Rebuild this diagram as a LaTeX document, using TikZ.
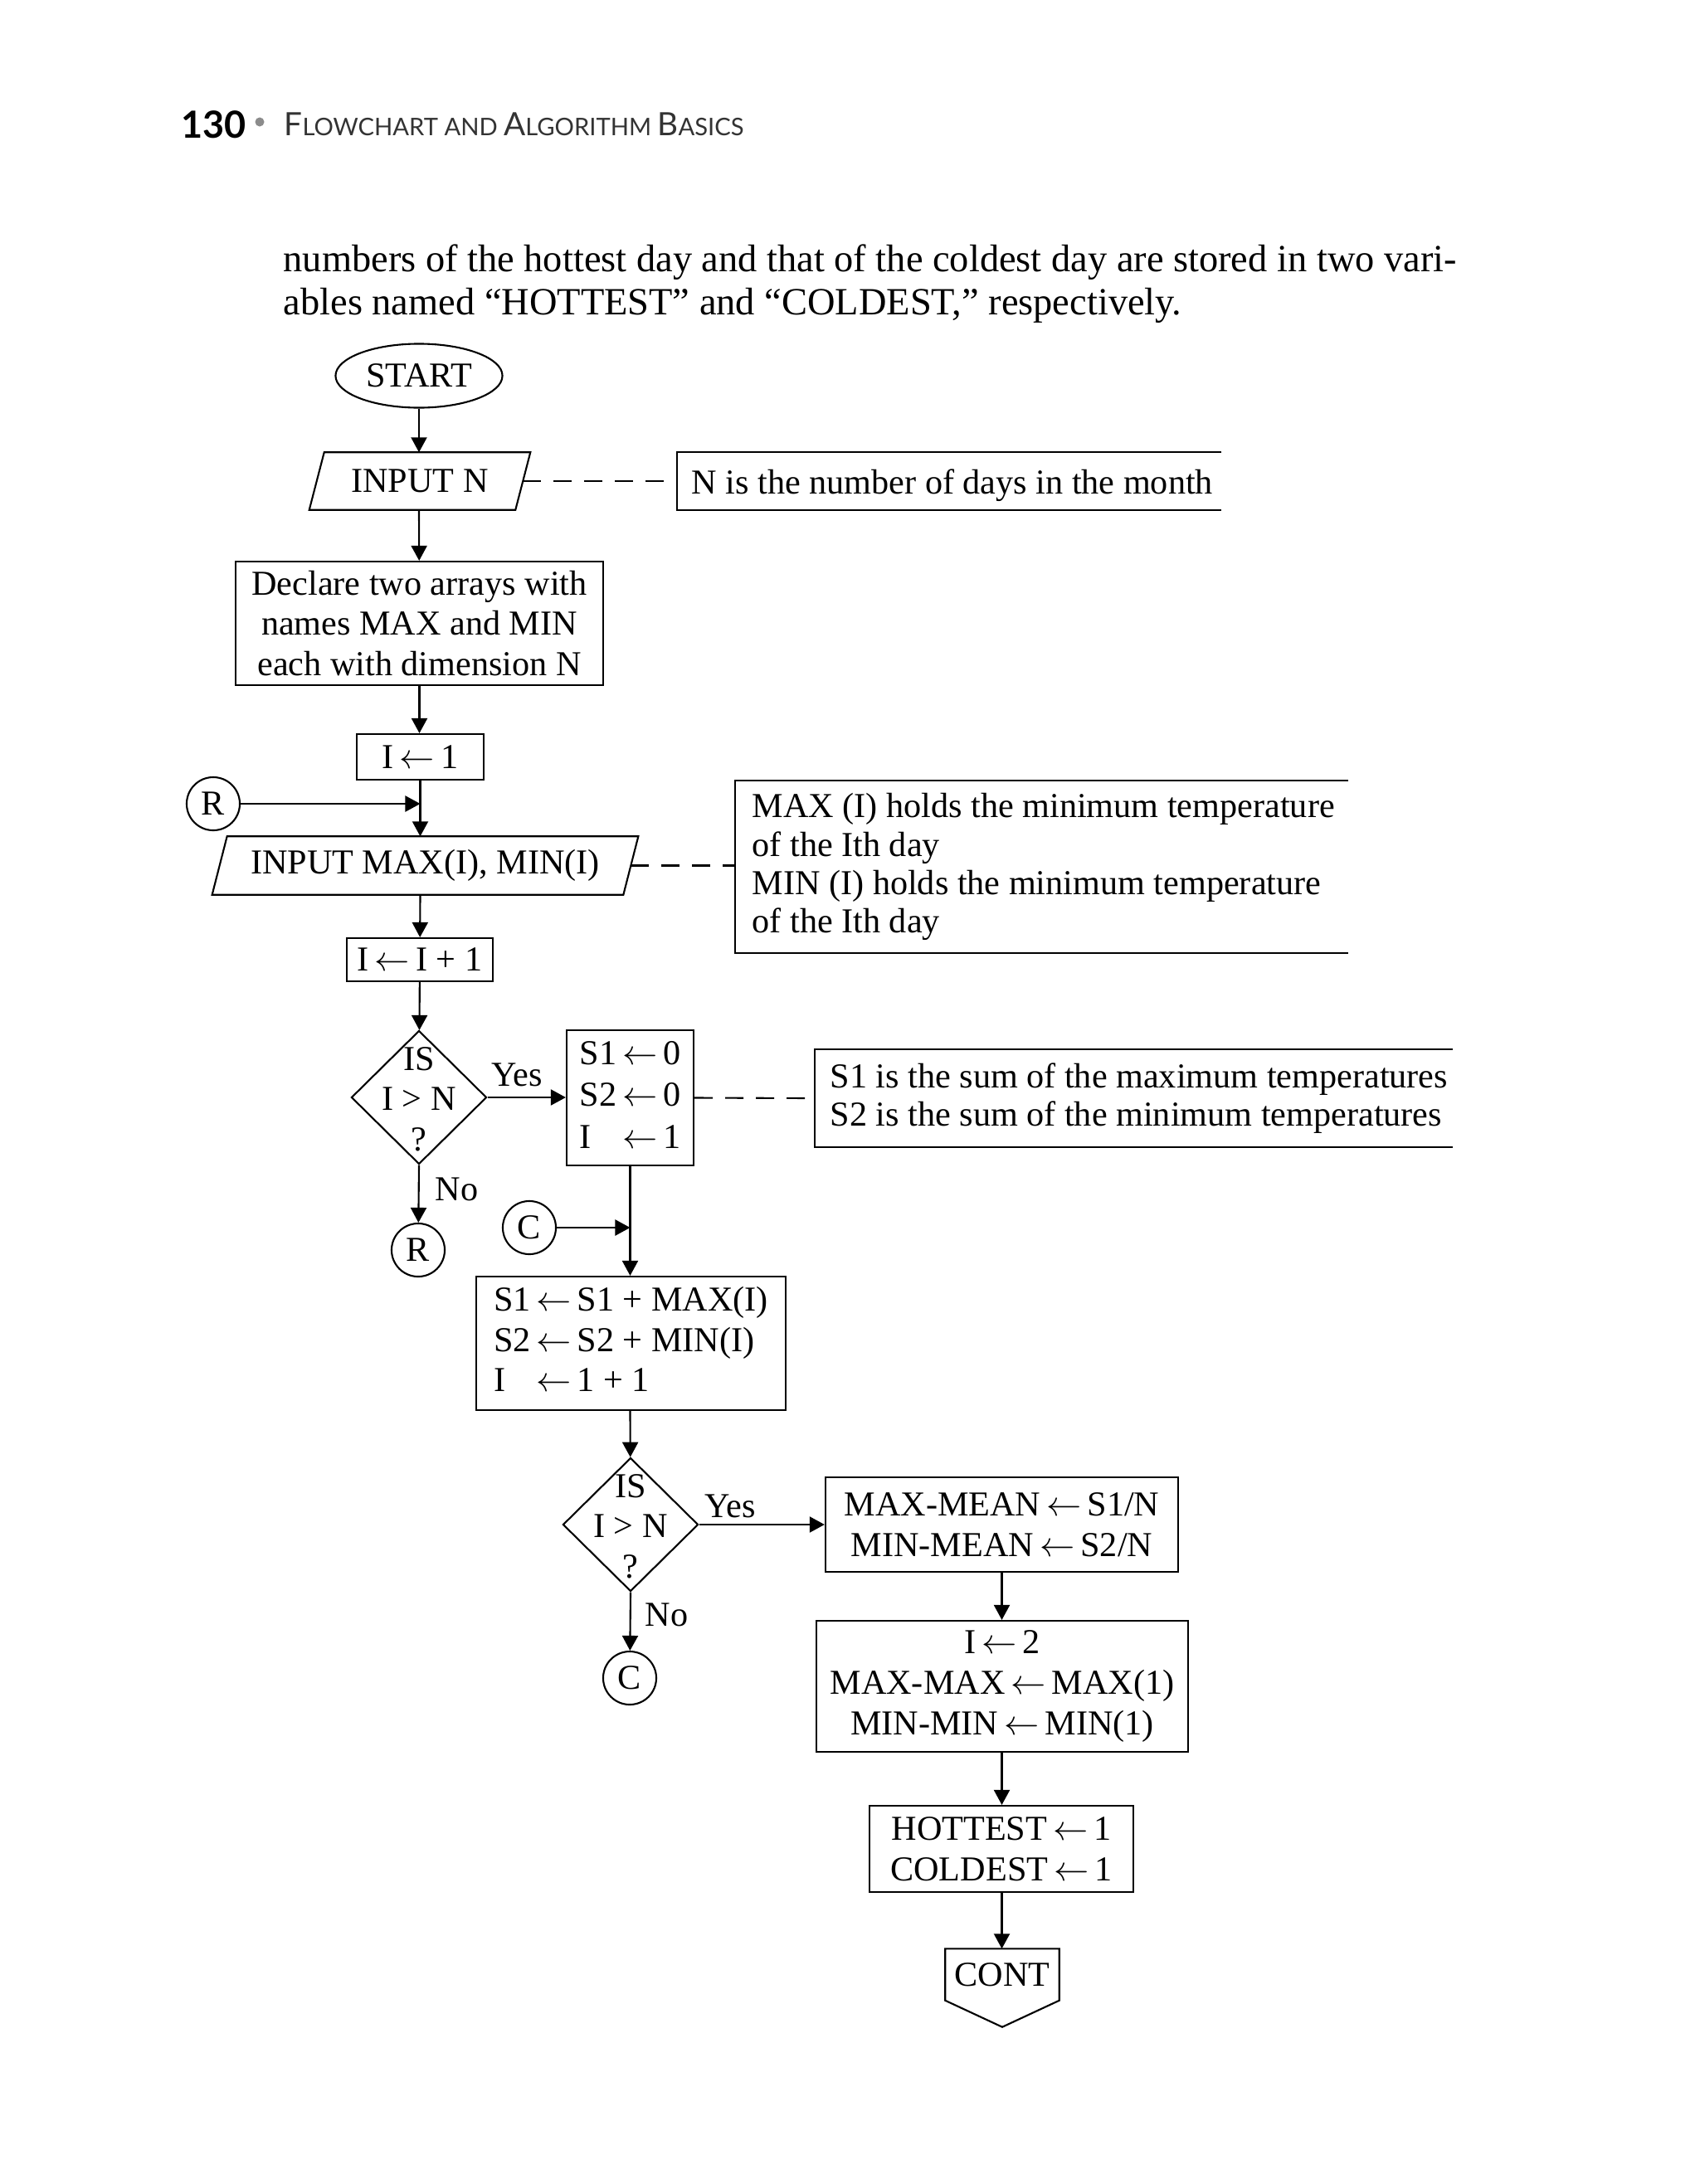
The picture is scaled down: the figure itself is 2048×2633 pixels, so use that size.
\documentclass[tikz,border=0pt]{standalone}
\usepackage{fontspec}
\setmainfont{Liberation Serif}
\newfontfamily\hdrfont{Lato}
\usetikzlibrary{shapes.geometric,arrows.meta,calc}
\newcommand\chartfont{\fontsize{12}{13.8}\selectfont}
\newcommand\notefont{\fontsize{12}{13.1}\selectfont}
\newcommand\bodyfont{\fontsize{13.2}{15.5}\selectfont}
\begin{document}
\begin{tikzpicture}[x=0.01cm,y=-0.01cm,
  box/.style={draw, line width=0.6pt, rectangle, inner sep=0pt, align=center, font=\chartfont},
  plain/.style={draw=none, rectangle, inner sep=0pt, align=center, font=\chartfont},
  flow/.style={line width=0.6pt, -{Triangle[length=0.18cm,width=0.19cm]}},
  conn/.style={draw, line width=0.6pt, circle, minimum size=0.64cm, inner sep=0pt, font=\chartfont},
  dia/.style={draw, line width=0.6pt, diamond, inner sep=0pt, minimum width=1.63cm, minimum height=1.61cm},
  note/.style={draw=none, rectangle, inner xsep=0.18cm, inner ysep=0pt, align=flush left, font=\notefont, anchor=west},
  bracket/.style={line width=0.6pt},
  dashline/.style={line width=0.6pt, dash pattern=on 0.22cm off 0.15cm},
  lbl/.style={font=\chartfont, inner sep=2pt}
]
\path[use as bounding box, fill=white] (0,0) rectangle (2048,2633);

% header
\node[anchor=west, inner sep=0pt, font={\hdrfont\bfseries\fontsize{12.8}{12.8}\selectfont}] (pg) at (218,150) {130};
\node[circle, fill=black!45, minimum size=0.11cm, inner sep=0pt] (bul) at (313,147) {};
\node[anchor=west, inner sep=0pt, text=black!80, font={\hdrfont\fontsize{11}{11}\selectfont}] (ttl) at (342,150)
  {F{\fontsize{8.3}{8.3}\selectfont LOWCHART AND }A{\fontsize{8.3}{8.3}\selectfont LGORITHM }B{\fontsize{8.3}{8.3}\selectfont ASICS}};

% body text
\node[anchor=west, inner sep=0pt, font=\bodyfont] (t1) at (341,316) {numbers of the hottest day and that of the coldest day are stored in two vari-};
\node[anchor=west, inner sep=0pt, font=\bodyfont] (t2) at (341,368) {ables named “HOTTEST” and “COLDEST,” respectively.};

% flowchart nodes
\node[draw, line width=0.6pt, ellipse, minimum width=2.01cm, minimum height=0.77cm, inner sep=0pt, font=\chartfont] (start) at (505,453) {START};

\node[plain, minimum width=2.47cm, minimum height=0.68cm] (inn) at (506,580) {INPUT N};
\draw[line width=0.6pt] ([xshift=0.09cm]inn.north west) -- ([xshift=0.09cm]inn.north east) -- ([xshift=-0.09cm]inn.south east) -- ([xshift=-0.09cm]inn.south west) -- cycle;

\node[note, text width=6.5cm, minimum height=0.68cm, inner xsep=0.17cm] (n1) at (816,580) {\raisebox{-0.15cm}[0pt][0pt]{N is the number of days in the month}};
\draw[bracket] ([xshift=6.56cm]n1.north west) -- (n1.north west) -- (n1.south west) -- ([xshift=6.56cm]n1.south west);

\node[box, minimum width=4.43cm, minimum height=1.49cm] (decl) at (505.5,751.5) {Declare two arrays with\\names MAX and MIN\\each with dimension N};

\node[box, minimum width=1.53cm, minimum height=0.55cm] (i1) at (506.5,912.5) {I\,$\leftarrow$\,1};

\node[conn] (r1) at (257,969) {R};

\node[plain, minimum width=4.94cm, minimum height=0.69cm] (imin) at (512.5,1043.5) {INPUT MAX(I), MIN(I)};
\draw[line width=0.6pt] ([xshift=0.09cm]imin.north west) -- ([xshift=0.09cm]imin.north east) -- ([xshift=-0.09cm]imin.south east) -- ([xshift=-0.09cm]imin.south west) -- cycle;

\node[note, text width=7.2cm, minimum height=2.06cm, inner xsep=0.2cm] (n2) at (886,1045)
  {MAX (I) holds the minimum temperature\\of the Ith day\\MIN (I) holds the minimum temperature\\of the Ith day};
\draw[bracket] ([xshift=7.39cm]n2.north west) -- (n2.north west) -- (n2.south west) -- ([xshift=7.39cm]n2.south west);

\node[box, minimum width=1.76cm, minimum height=0.52cm] (iinc) at (506,1157) {I\,$\leftarrow$\,I + 1};

\node[dia, label={[font=\chartfont, align=center, inner sep=0pt, yshift=-0.02cm]center:IS\\I > N\\?}] (d1) at (505,1323) {};

\node[box, minimum width=1.53cm, minimum height=1.63cm] (s1) at (759.5,1323.5)
  {\renewcommand\arraystretch{1.04}\raisebox{-0.03cm}{\begin{tabular}{@{}l@{\,}c@{\,}l@{}}S1&$\leftarrow$&0\\S2&$\leftarrow$&0\\I&$\leftarrow$&1\end{tabular}}};

\node[note, text width=7.6cm, minimum height=1.16cm] (n3) at (982,1324)
  {S1 is the sum of the maximum temperatures\\S2 is the sum of the minimum temperatures};
\draw[bracket] ([xshift=7.69cm]n3.north west) -- (n3.north west) -- (n3.south west) -- ([xshift=7.69cm]n3.south west);

\node[conn] (r2) at (504,1507) {R};
\node[conn] (cc1) at (638,1480) {C};

\node[box, minimum width=3.73cm, minimum height=1.61cm] (sum) at (760.5,1619.5)
  {\raisebox{-0.06cm}{\begin{tabular}{@{}l@{\,}c@{\,}l@{}}S1&$\leftarrow$&S1 + MAX(I)\\S2&$\leftarrow$&S2 + MIN(I)\\I&$\leftarrow$&1 + 1\end{tabular}}};

\node[dia, label={[font=\chartfont, align=center, inner sep=0pt, yshift=-0.02cm]center:IS\\I > N\\?}] (d2) at (760,1838) {};

\node[box, minimum width=4.25cm, minimum height=1.14cm] (mean) at (1207.5,1838) {MAX-MEAN\,$\leftarrow$\,S1/N\\MIN-MEAN\,$\leftarrow$\,S2/N};

\node[conn] (cc2) at (759,2023) {C};

\node[box, minimum width=4.48cm, minimum height=1.58cm] (init) at (1208,2033) {I\,$\leftarrow$\,2\\MAX-MAX\,$\leftarrow$\,MAX(1)\\MIN-MIN\,$\leftarrow$\,MIN(1)};

\node[box, minimum width=3.18cm, minimum height=1.04cm] (hc) at (1207,2229) {HOTTEST\,$\leftarrow$\,1\\COLDEST\,$\leftarrow$\,1};

\node[plain, minimum width=1.36cm, minimum height=0.61cm] (cont) at (1208,2380.5) {CONT};
\draw[line width=0.6pt] (cont.south west) -- (cont.north west) -- (cont.north east) -- (cont.south east) -- ($(cont.south)+(0,32)$) -- cycle;

% connectors
\draw[flow] (start) -- (start |- inn.north);
\draw[dashline] (inn.east) -- (n1.west);
\draw[flow] (start |- inn.south) -- (decl);
\draw[flow] (decl) -- (decl.south |- i1.north);
\draw[flow] (i1) -- (i1 |- imin.north);
\draw[flow] (r1) -- (r1 -| i1);
\draw[dashline] (imin.east) -- (imin.east -| n2.west);
\draw[flow] (i1 |- imin.south) -- (iinc);
\draw[flow] (iinc) -- (d1);
\draw[flow] (d1.east) -- node[lbl, above, pos=0.38, yshift=0.05cm] {Yes} (d1.east -| s1.west);
\draw[dashline] (s1.east) -- (n3.west);
\draw[flow] (d1.south) -- node[lbl, right, pos=0.42, xshift=0.12cm] {No} (r2);
\draw[flow] (cc1) -- (cc1 -| s1);
\draw[flow] (s1) -- (s1 |- sum.north);
\draw[flow] (s1 |- sum.south) -- (d2);
\draw[flow] (d2.east) -- node[lbl, above, pos=0.25] {Yes} (mean);
\draw[flow] (d2.south) -- node[lbl, right, pos=0.39, xshift=0.1cm] {No} (cc2);
\draw[flow] (mean) -- (mean |- init.north);
\draw[flow] (mean |- init.south) -- (mean |- hc.north);
\draw[flow] (mean |- hc.south) -- (mean |- cont.north);
\end{tikzpicture}
\end{document}
